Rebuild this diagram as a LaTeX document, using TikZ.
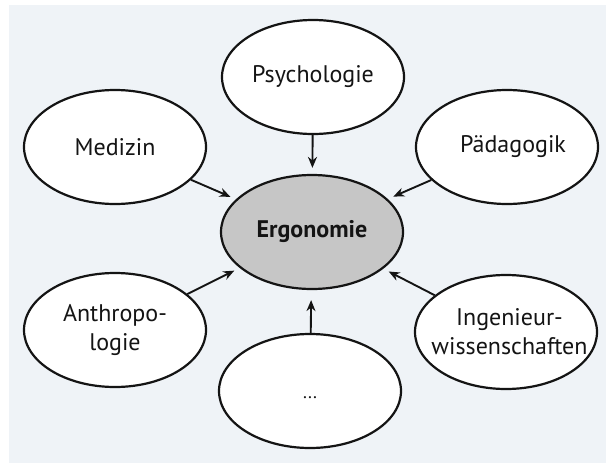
\documentclass[tikz,border=0pt]{standalone}
\usepackage{fontspec}
\setmainfont{PT Sans}
\usetikzlibrary{shapes.geometric,arrows.meta}
\definecolor{panel}{RGB}{239,243,247}
\definecolor{ergofill}{RGB}{198,198,198}
\definecolor{ink}{RGB}{20,20,20}
\begin{document}
\begin{tikzpicture}[x=1pt,y=-1pt,
  field/.style={ellipse,draw=ink,line width=2.2pt,fill=white,minimum width=182pt,minimum height=114pt,inner sep=0pt,align=center,font=\fontsize{24}{29}\selectfont,text=ink},
  core/.style={field,fill=ergofill,font=\fontsize{24}{29}\selectfont\bfseries},
  link/.style={-{Stealth[length=11pt,width=9pt]},line width=1.9pt,draw=ink,shorten >=#1},
  link/.default=6pt]
\useasboundingbox (0,0) rectangle (606,463);
\fill[white] (0,0) rectangle (606,463);
\fill[panel] (9,5) rectangle (606,463);
\node[core]  (ergo) at (312,232) {Ergonomie};
\node[field] (psy)  at (313,77)  {Psychologie};
\node[field] (med)  at (115,147) {Medizin};
\node[field] (paed) at (507,147) {\hspace*{12pt}Pädagogik};
\node[field] (anth) at (115,330) {Anthropo-\\logie};
\node[field,inner xsep=-35pt,inner ysep=-6pt] (ing) at (506,332) {\hspace*{7pt}Ingenieur-\\\hspace*{7pt}wissenschaften};
\node[field,font=\fontsize{18}{20}\selectfont,text height=14pt,text depth=0pt] (etc) at (310,391) {...};
\draw[link] (psy) -- (ergo);
\draw[link] (med) -- (ergo);
\draw[link] (paed) -- (ergo);
\draw[link] (anth) -- (ergo);
\draw[link] (ing) -- (ergo);
\draw[link=10pt] (etc) -- (ergo);
\end{tikzpicture}
\end{document}
